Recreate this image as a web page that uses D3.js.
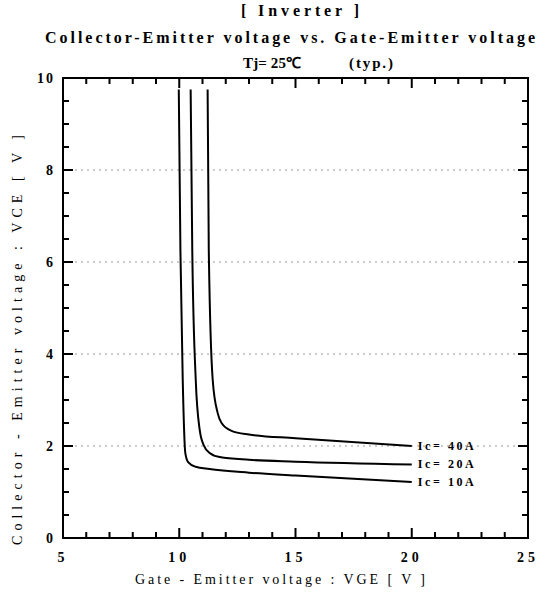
<!DOCTYPE html>
<html><head><meta charset="utf-8">
<script src="https://cdn.jsdelivr.net/npm/d3@7"></script>
<style>body{margin:0;background:#fff}svg{display:block}text{font-family:"Liberation Serif",serif;fill:#000}</style>
</head><body><svg id="c" width="544" height="594"></svg>
<script>
// ---- data ----
const titleTop = "[ Inverter ]";
const titleMain = "Collector-Emitter voltage  vs. Gate-Emitter voltage";
const titleCond = "Tj= 25\u2103";
const titleTyp = "(typ.)";
const xLabel = "Gate - Emitter voltage  :  VGE  [ V ]";
const yLabel = "Collector - Emitter voltage  :  VCE  [ V ]";
const xTicks = [5, 10, 15, 20, 25];
const yTicks = [0, 2, 4, 6, 8, 10];
const gridY = [2, 4, 6, 8];
const seriesNames = ["Ic= 10A", "Ic= 20A", "Ic= 40A"];
const vge10 = [9.98, 10.05, 10.15, 10.26, 10.38, 10.7, 11.3, 13, 15, 20];
const vce10 = [9.75, 6.26, 3.43, 1.85, 1.65, 1.55, 1.5, 1.42, 1.36, 1.22];
const vge20 = [10.49, 10.56, 10.71, 10.88, 11.05, 11.31, 11.74, 13, 15, 20];
const vce20 = [9.75, 6.26, 3.43, 2.35, 2.02, 1.85, 1.76, 1.7, 1.66, 1.6];
const vge40 = [11.22, 11.27, 11.44, 11.65, 11.82, 12.25, 13, 15, 20];
const vce40 = [9.75, 6.26, 3.43, 2.72, 2.5, 2.33, 2.25, 2.17, 2.0];

const svg = d3.select("#c");
const x = d3.scaleLinear().domain([5, 25]).range([63, 528]);
const y = d3.scaleLinear().domain([0, 10]).range([538, 78]);

// title
function title(t, cx, cy, size, w) {
  const el = svg.append("text").attr("x", cx).attr("y", cy).attr("text-anchor", "middle")
    .attr("font-size", size).attr("font-weight", "bold").text(t);
  if (w) el.attr("textLength", w).attr("lengthAdjust", "spacing");
}
title(titleTop, 300, 16, 16, 118);
title(titleMain, 290, 43, 16, 490);
title(titleCond, 272, 68, 15, 58);
title(titleTyp, 371, 68, 15, 44);

// grid
svg.append("g").selectAll("line").data(gridY).join("line")
  .attr("x1", x(5)).attr("x2", x(25)).attr("y1", d => y(d)).attr("y2", d => y(d))
  .attr("stroke", "#999").attr("stroke-width", 1).attr("stroke-dasharray", "2,4");

// frame
svg.append("rect").attr("x", x(5)).attr("y", y(10)).attr("width", x(25) - x(5)).attr("height", y(0) - y(10))
  .attr("fill", "none").attr("stroke", "#000").attr("stroke-width", 2);

// inner ticks on all four sides, as small filled rects
const minorX = d3.range(5, 25.01, 1), minorY = d3.range(0, 10.01, 0.5);
const tickRects = [];
minorX.forEach(v => {
  const len = xTicks.indexOf(Math.round(v)) >= 0 ? 10 : 6;
  tickRects.push({x: x(v) - 1, y: y(0) - len, w: 2, h: len});
  tickRects.push({x: x(v) - 1, y: y(10), w: 2, h: len});
});
minorY.forEach(v => {
  const len = yTicks.indexOf(v) >= 0 ? 10 : 6;
  tickRects.push({x: x(5), y: y(v) - 1, w: len, h: 2});
  tickRects.push({x: x(25) - len, y: y(v) - 1, w: len, h: 2});
});
svg.append("g").attr("class", "ticks").selectAll("rect").data(tickRects).join("rect")
  .attr("x", d => d.x).attr("y", d => d.y).attr("width", d => d.w).attr("height", d => d.h).attr("fill", "#000");

// tick labels
svg.append("g").selectAll("text").data(xTicks).join("text").attr("x", d => x(d)).attr("y", y(0) + 24)
  .attr("text-anchor", "middle").attr("font-size", 14).attr("font-weight", "bold").attr("letter-spacing", 4).text(d => d);
svg.append("g").selectAll("text").data(yTicks).join("text").attr("x", x(5) - 8).attr("y", d => y(d) + 5)
  .attr("text-anchor", "end").attr("font-size", 14).attr("font-weight", "bold").attr("letter-spacing", 2).text(d => d);

// axis titles
svg.append("text").attr("x", 280).attr("y", 584).attr("text-anchor", "middle").attr("font-size", 14)
  .attr("textLength", 290).attr("lengthAdjust", "spacing").text(xLabel);
svg.append("text").attr("transform", "translate(22,340) rotate(-90)").attr("text-anchor", "middle").attr("font-size", 14)
  .attr("textLength", 410).attr("lengthAdjust", "spacing").text(yLabel);

// curves
const line = d3.line().x(d => x(d[0])).y(d => y(d[1])).curve(d3.curveMonotoneX);
const series = [[vge10, vce10], [vge20, vce20], [vge40, vce40]];
series.forEach(([xs, ys], i) => {
  const pts = xs.map((v, j) => [v, ys[j]]);
  svg.append("path").attr("d", line(pts)).attr("fill", "none").attr("stroke", "#000").attr("stroke-width", 2);
  const last = pts[pts.length - 1];
  svg.append("text").attr("x", x(last[0]) + 6).attr("y", y(last[1]) + 4).attr("font-size", 12)
    .attr("font-weight", "bold").attr("textLength", 56).attr("lengthAdjust", "spacing").text(seriesNames[i]);
});
</script></body></html>
